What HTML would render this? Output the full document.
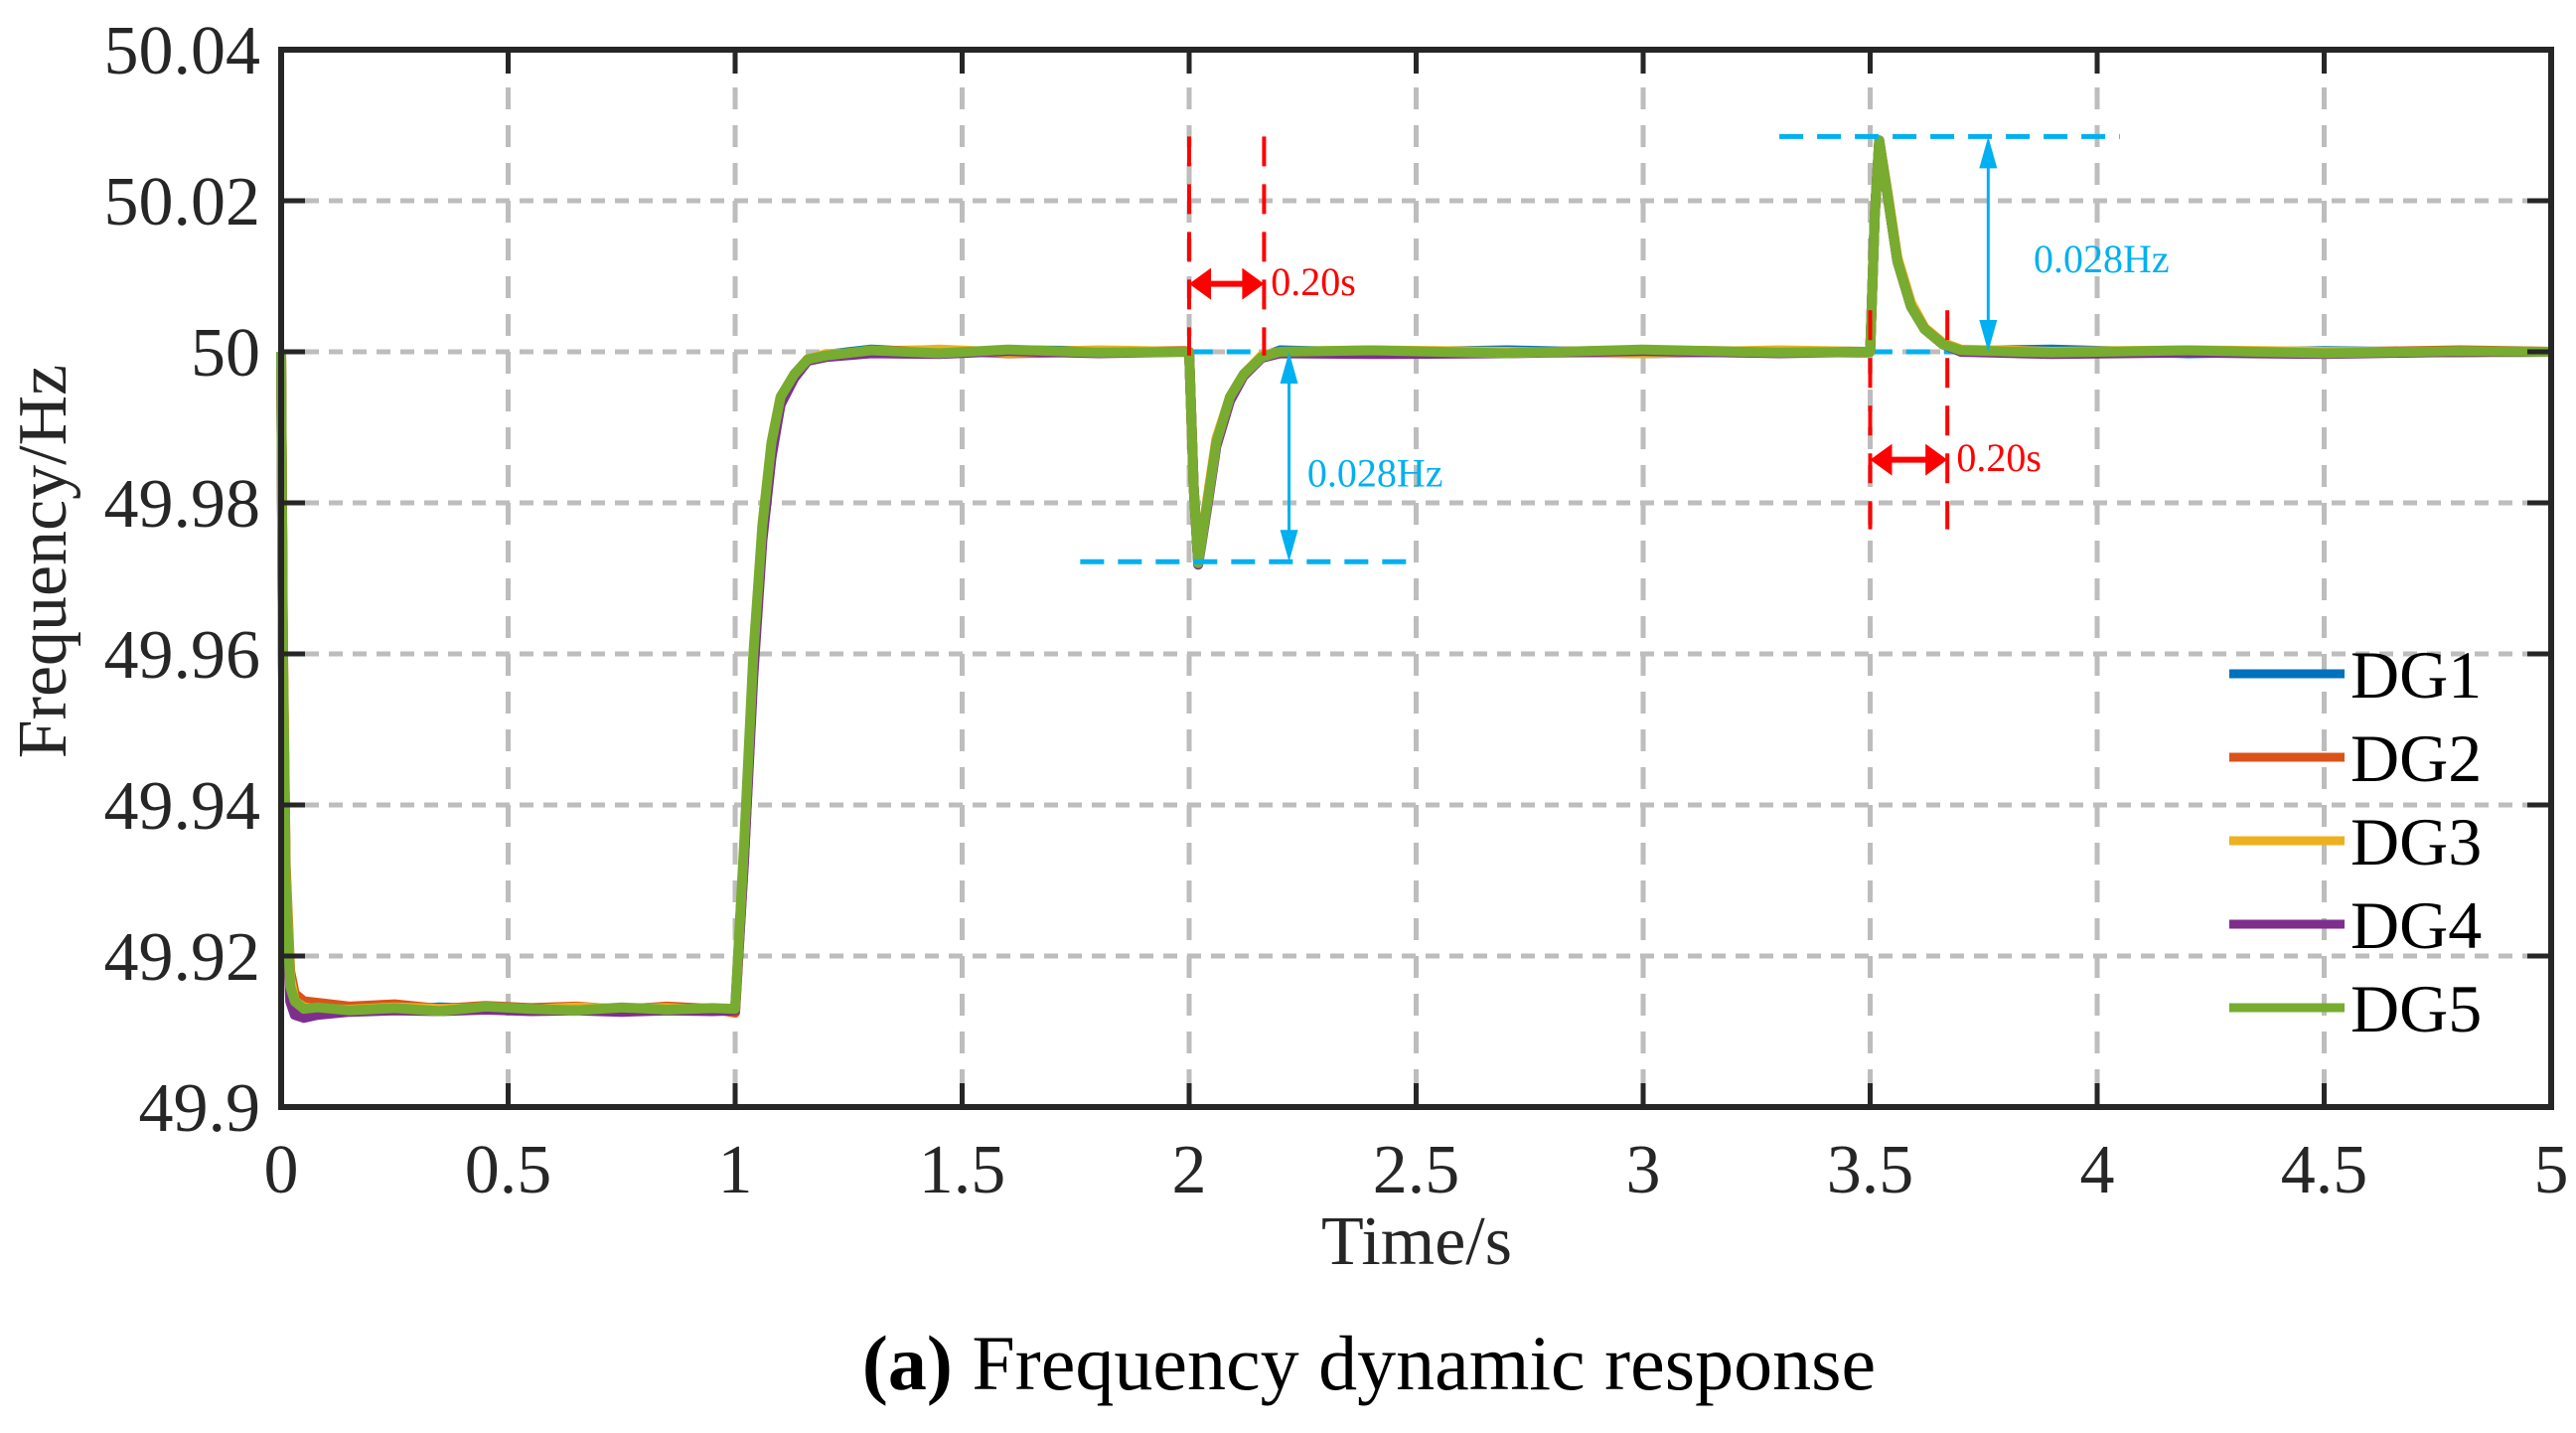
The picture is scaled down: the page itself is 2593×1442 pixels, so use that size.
<!DOCTYPE html>
<html><head><meta charset="utf-8"><style>
html,body{margin:0;padding:0;background:#fff;}
svg{display:block;font-family:"Liberation Serif",serif;}
</style></head><body>
<svg id="chart" width="2593" height="1442" viewBox="0 0 2593 1442" xmlns="http://www.w3.org/2000/svg">
<g id="grid"></g>
<g id="series"></g>
<g id="annot"></g>
<g id="axes"></g>
<g id="legend"></g>
<text x="1426" y="1272" font-size="70" text-anchor="middle" fill="#262626">Time/s</text>
<text transform="translate(66,565) rotate(-90)" font-size="70" text-anchor="middle" fill="#262626">Frequency/Hz</text>
<text x="1378" y="1398" font-size="78" text-anchor="middle" fill="#000"><tspan font-weight="bold">(a)</tspan> Frequency dynamic response</text>
</svg>
<script>
const xTicks = [0,0.5,1,1.5,2,2.5,3,3.5,4,4.5,5];
const xTickLabels = ["0","0.5","1","1.5","2","2.5","3","3.5","4","4.5","5"];
const yTicks = [49.9,49.92,49.94,49.96,49.98,50,50.02,50.04];
const yTickLabels = ["49.9","49.92","49.94","49.96","49.98","50","50.02","50.04"];
const seriesNames = ["DG1","DG2","DG3","DG4","DG5"];
const seriesColors = ["#0072BD","#D95319","#EDB120","#7E2F8E","#77AC30"];
const times = [0,0.004,0.01,0.02,0.03,0.05,0.08,0.15,0.25,0.35,
0.45,0.55,0.65,0.75,0.85,0.95,1.0,1.02,1.04,1.06,
1.08,1.1,1.13,1.16,1.2,1.3,1.45,1.6,1.8,1.99,
2.0,2.01,2.02,2.04,2.06,2.09,2.12,2.16,2.2,2.4,
2.7,3.0,3.3,3.49,3.5,3.51,3.52,3.54,3.56,3.59,
3.62,3.66,3.7,3.9,4.2,4.5,4.8,5.0];
const dg1 = [50,49.96,49.93,49.916,49.914,49.9128,49.913,49.9131,49.9129,49.9132,
49.913,49.9128,49.9131,49.913,49.9132,49.9129,49.913,49.934,49.959,49.976,
49.987,49.993,49.997,49.999,49.9996,50.0003,49.9998,50.0002,50.0001,50.0,
50.0,49.982,49.9722,49.980,49.988,49.994,49.997,49.9993,50.0002,49.9999,
50.0002,49.9998,50.0001,50.0,50.0,50.018,50.0278,50.020,50.012,50.006,
50.003,50.001,50.0001,50.0003,49.9998,50.0001,49.9999,50.0];
const dg2 = [50,49.962,49.932,49.918,49.915,49.914,49.9138,49.9133,49.9136,49.913,
49.9134,49.9131,49.9133,49.9129,49.9133,49.913,49.9125,49.933,49.958,49.976,
49.987,49.993,49.997,49.999,49.9994,50.0001,50.0002,49.9998,50.0,50.0001,
50.0,49.982,49.972,49.980,49.988,49.994,49.997,49.9993,50.0,50.0001,
49.9999,50.0002,50.0,49.9999,50.0,50.018,50.028,50.020,50.012,50.006,
50.003,50.001,50.0002,49.9999,50.0001,49.9999,50.0002,50.0];
const dg3 = [50,49.961,49.931,49.917,49.914,49.9132,49.913,49.9129,49.9132,49.913,
49.9131,49.9129,49.9132,49.913,49.9131,49.9128,49.913,49.934,49.959,49.977,
49.988,49.994,49.997,49.999,49.9997,49.9999,50.0003,49.9999,50.0002,50.0,
50.0,49.982,49.9722,49.9805,49.9885,49.994,49.997,49.9995,50.0,50.0002,
50.0,49.9998,50.0002,50.0,50.0,50.018,50.028,50.0205,50.0125,50.0065,
50.0032,50.0012,50.0003,50.0,50.0002,50.0,49.9999,50.0];
const dg4 = [50,49.958,49.928,49.914,49.9122,49.9118,49.9122,49.9126,49.9128,49.9127,
49.9129,49.9127,49.9128,49.9126,49.9128,49.9127,49.9128,49.933,49.957,49.975,
49.986,49.993,49.9965,49.9988,49.9993,49.9998,49.9997,50.0001,49.9998,50.0,
50.0,49.982,49.9718,49.9795,49.9875,49.9935,49.9968,49.9992,49.9998,49.9997,
49.9998,50.0001,49.9998,50.0,50.0,50.018,50.028,50.020,50.012,50.006,
50.003,50.001,50.0,49.9997,49.9999,49.9997,50.0,50.0];
const dg5 = [50,49.96,49.93,49.916,49.914,49.913,49.9132,49.9128,49.9131,49.9127,
49.9133,49.913,49.9128,49.9132,49.9129,49.9131,49.913,49.935,49.96,49.977,
49.988,49.994,49.997,49.999,49.9995,50.0002,49.9998,50.0003,49.9999,50.0,
50.0,49.982,49.972,49.980,49.988,49.994,49.997,49.9993,50.0,50.0002,
49.9998,50.0003,49.9999,50.0,50.0,50.018,50.028,50.020,50.012,50.006,
50.003,50.001,50.0002,49.9999,50.0002,49.9998,50.0001,50.0];
const seriesValues = [dg1,dg2,dg3,dg4,dg5];

const L=283,R=2568,T=50,B=1114;
const xMin=0,xMax=5,yMin=49.9,yMax=50.04;
function sx(v){return L+(v-xMin)/(xMax-xMin)*(R-L);}
function sy(v){return B-(v-yMin)/(yMax-yMin)*(B-T);}
const NS="http://www.w3.org/2000/svg";
function mk(tag,parent,attrs){const e=document.createElementNS(NS,tag);for(const k in attrs)e.setAttribute(k,attrs[k]);parent.appendChild(e);return e;}

const grid=document.getElementById('grid');
xTicks.forEach((t,i)=>{
  if(i===0||i===xTicks.length-1)return;
  const l=mk('line',grid,{x1:sx(t),x2:sx(t),y1:T,y2:B,stroke:'#bdbdbd','stroke-width':5,'stroke-dasharray':'22 16'});
  
  
});
yTicks.forEach((t,i)=>{
  if(i===0||i===yTicks.length-1)return;
  const l=mk('line',grid,{x1:L,x2:R,y1:sy(t),y2:sy(t),stroke:'#bdbdbd','stroke-width':5,'stroke-dasharray':'14 10'});
  
  
});

const annot=document.getElementById('annot');
const ser=document.getElementById('series');
const bl0=mk('line',ser,{x1:sx(1.75),x2:sx(4.05),y1:sy(50),y2:sy(50),stroke:'#00b0f0','stroke-width':5,'stroke-dasharray':'24 14'});



seriesValues.forEach((vals,si)=>{
  const d=vals.map((v,i)=>(i?'L':'M')+sx(times[i]).toFixed(1)+' '+sy(v).toFixed(1)).join(' ');
  const p=mk('path',ser,{d:d,fill:'none',stroke:seriesColors[si],'stroke-width':10,'stroke-linejoin':'round'});
  
  
});

const RED='#ff0000',BLUE='#00b0f0';
function dline(x1,y1,x2,y2,c,w,da,name){
  const l=mk('line',annot,{x1:x1,y1:y1,x2:x2,y2:y2,stroke:c,'stroke-width':w,'stroke-dasharray':da});
  
  
}
function harrow(x1,x2,y,c,name){
  dline(x1+14,y,x2-14,y,c,6,'',name);
  const a=mk('path',annot,{d:`M${x1} ${y} L${x1+22} ${y-16} L${x1+22} ${y+16}Z M${x2} ${y} L${x2-22} ${y-16} L${x2-22} ${y+16}Z`,fill:c});
  
  
}
function varrow(x,y1,y2,c,name){
  dline(x,y1+14,x,y2-14,c,3,'',name);
  const a=mk('path',annot,{d:`M${x} ${y1} L${x-9} ${y1+32} L${x+9} ${y1+32}Z M${x} ${y2} L${x-9} ${y2-32} L${x+9} ${y2-32}Z`,fill:c});
  
  
}
function label(x,y,s,c,name){
  const t=mk('text',annot,{x:x,y:y,'font-size':40,fill:c});
  t.textContent=s;
  
  
}
dline(sx(2.0),sy(50.0285),sx(2.0),sy(49.9995),RED,4,'30 18','dip-start-marker');
dline(sx(2.165),sy(50.0285),sx(2.165),sy(49.9995),RED,4,'30 18','dip-end-marker');
harrow(sx(2.0),sx(2.165),sy(50.009),RED,'dip-duration-arrow');
label(sx(2.18),sy(50.0075),'0.20s',RED,'dip-duration-label');
dline(sx(1.76),sy(49.9722),sx(2.5),sy(49.9722),BLUE,5,'24 14','dip-min-line');
varrow(sx(2.22),sy(50),sy(49.9722),BLUE,'dip-depth-arrow');
label(sx(2.26),sy(49.9822),'0.028Hz',BLUE,'dip-depth-label');
dline(sx(3.3),sy(50.0285),sx(4.05),sy(50.0285),BLUE,5,'24 14','peak-max-line');
varrow(sx(3.76),sy(50.0285),sy(50),BLUE,'peak-height-arrow');
label(sx(3.86),sy(50.0105),'0.028Hz',BLUE,'peak-height-label');
dline(sx(3.5),sy(50.0055),sx(3.5),sy(49.9765),RED,4,'30 18','peak-start-marker');
dline(sx(3.67),sy(50.0055),sx(3.67),sy(49.9765),RED,4,'30 18','peak-end-marker');
harrow(sx(3.5),sx(3.67),sy(49.9857),RED,'peak-duration-arrow');
label(sx(3.69),sy(49.9842),'0.20s',RED,'peak-duration-label');

const ax=document.getElementById('axes');
const box=mk('rect',ax,{x:L,y:T,width:R-L,height:B-T,fill:'none',stroke:'#262626','stroke-width':6});


xTicks.forEach((t,i)=>{
  mk('line',ax,{x1:sx(t),x2:sx(t),y1:B,y2:B-24,stroke:'#262626','stroke-width':5});
  mk('line',ax,{x1:sx(t),x2:sx(t),y1:T,y2:T+24,stroke:'#262626','stroke-width':5});
  const tx=mk('text',ax,{x:sx(t),y:1200,'font-size':70,'text-anchor':'middle',fill:'#262626'});
  tx.textContent=xTickLabels[i];
  
  
});
yTicks.forEach((t,i)=>{
  mk('line',ax,{x1:L,x2:L+24,y1:sy(t),y2:sy(t),stroke:'#262626','stroke-width':5});
  mk('line',ax,{x1:R,x2:R-24,y1:sy(t),y2:sy(t),stroke:'#262626','stroke-width':5});
  const tx=mk('text',ax,{x:262,y:sy(t)+24,'font-size':70,'text-anchor':'end',fill:'#262626'});
  tx.textContent=yTickLabels[i];
  
  
});

const lg=document.getElementById('legend');
seriesNames.forEach((n,i)=>{
  const y=678+i*84;
  const g=mk('g',lg,{});
  
  
  mk('line',g,{x1:2244,x2:2360,y1:y,y2:y,stroke:seriesColors[i],'stroke-width':9});
  const tx=mk('text',g,{x:2366,y:y+24,'font-size':68,fill:'#000'});
  tx.textContent=n;
});
</script>
</body></html>
